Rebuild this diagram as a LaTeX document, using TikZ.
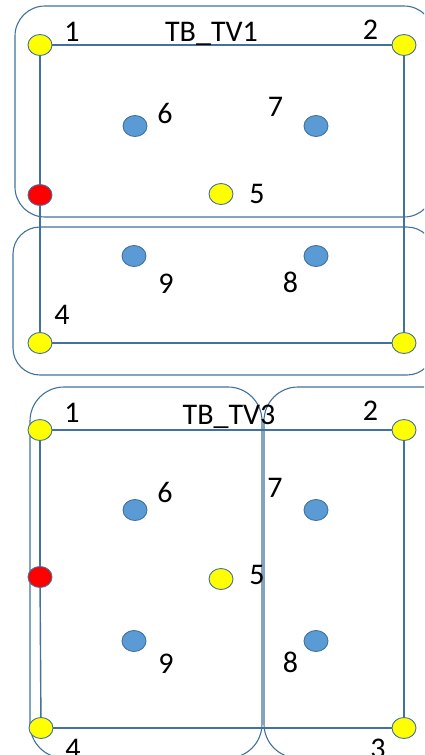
\documentclass[tikz,border=0pt]{standalone}
\usepackage{fontspec}
\setmainfont{Carlito}
\usetikzlibrary{shapes.geometric}
\definecolor{edge}{HTML}{41719C}
\definecolor{dotblue}{HTML}{5B9BD5}
\definecolor{dotyellow}{HTML}{FFFF00}
\definecolor{dotred}{HTML}{FF0000}
\tikzset{
  dot/.style={ellipse, draw=edge, line width=0.9pt, minimum width=24pt, minimum height=21pt, inner sep=0pt},
  ydot/.style={dot, fill=dotyellow},
  bdot/.style={dot, fill=dotblue},
  rdot/.style={dot, fill=dotred},
  lbl/.style={anchor=base, inner sep=0pt, font=\fontsize{30}{30}\selectfont},
  wire/.style={draw=edge, line width=1.4pt},
  group/.style={draw=edge, line width=1.1pt},
}
\begin{document}
\begin{tikzpicture}[x=1pt,y=-1pt]
\useasboundingbox (0,0) rectangle (424,755);
\clip (0,0) rectangle (424,755);
% ---------- top panel ----------
\draw[group, rounded corners=30pt] (15,6) rectangle (434,217);
\draw[group, rounded corners=27pt] (13,227) rectangle (434,375);
\node[ydot] (a1) at (40,45) {};
\node[ydot] (a2) at (404,45) {};
\node[rdot] (ar) at (40,195) {};
\node[ydot] (a4) at (40,343) {};
\node[ydot] (a3) at (404,343) {};
\node[ydot] (a5) at (221,194) {};
\node[bdot] (a6) at (135,126) {};
\node[bdot] (a7) at (316,126) {};
\node[bdot] (a9) at (134,256) {};
\node[bdot] (a8) at (316,256) {};
\draw[wire] (a1) -- (a2);
\draw[wire] (a2) -- (a3);
\draw[wire] (a3) -- (a4);
\draw[wire] (a4) -- (ar);
\draw[wire] (ar) -- (a1);
\node[lbl] (ta1) at (72,41) {1};
\node[lbl] (tat) at (211.5,41) {TB\_TV1};
\node[lbl] (ta2) at (370.5,39) {2};
\node[lbl] (ta6) at (165,123) {6};
\node[lbl] (ta7) at (275.5,116) {7};
\node[lbl] (ta5) at (257,203) {5};
\node[lbl] (ta9) at (166,293) {9};
\node[lbl] (ta8) at (290.5,292) {8};
\node[lbl] (ta4) at (62,324) {4};
% ---------- bottom panel ----------
\draw[group, rounded corners=34pt] (30,387) rectangle (262,758);
\draw[group, rounded corners=34pt] (264,387) rectangle (460,758);
\node[ydot] (b1) at (40,430) {};
\node[ydot] (b2) at (404,430) {};
\node[rdot] (br) at (40,577) {};
\node[ydot] (b4) at (41,728) {};
\node[ydot] (b3) at (404,728) {};
\node[ydot] (b5) at (221,579) {};
\node[bdot] (b6) at (135,510) {};
\node[bdot] (b7) at (316,510) {};
\node[bdot] (b9) at (134,641) {};
\node[bdot] (b8) at (316,641) {};
\draw[wire] (b1) -- (b2);
\draw[wire] (b2) -- (b3);
\draw[wire] (b3) -- (b4);
\draw[wire] (b4) -- (br);
\draw[wire] (br) -- (b1);
\node[lbl] (tb1) at (72,422) {1};
\node[lbl] (tbt) at (229,424) {TB\_TV3};
\node[lbl] (tb2) at (370.5,420) {2};
\node[lbl] (tb6) at (165,502) {6};
\node[lbl] (tb7) at (275,497) {7};
\node[lbl] (tb5) at (257,584) {5};
\node[lbl] (tb9) at (166,673) {9};
\node[lbl] (tb8) at (290.5,672) {8};
\node[lbl] (tb4) at (73,758) {4};
\node[lbl] (tb3) at (378,758) {3};
\end{tikzpicture}
\end{document}
